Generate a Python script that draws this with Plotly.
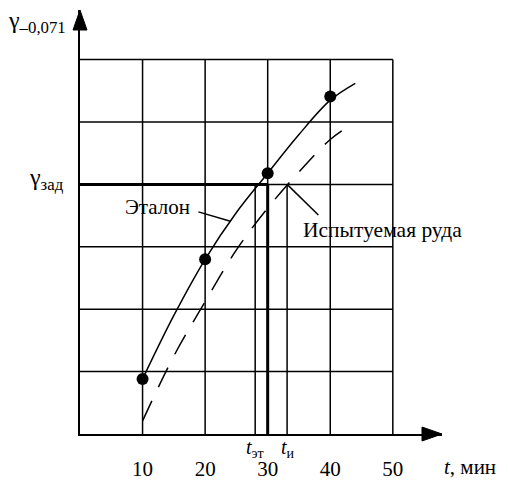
import plotly.graph_objects as go

# ---- data ----
etalon_t = [10, 15, 20, 25, 30, 35, 40, 44]
etalon_g = [0.88, 1.9, 2.8, 3.55, 4.18, 4.8, 5.35, 5.62]
points_t = [10, 20, 30, 40]
points_g = [0.88, 2.8, 4.18, 5.41]
test_t = [10, 15, 20, 25, 30, 35, 40, 43.4]
test_g = [0.21, 1.25, 2.12, 2.95, 3.62, 4.2, 4.72, 4.96]
tick_vals = [10, 20, 30, 40, 50]
tick_text = ["10", "20", "30", "40", "50"]
grid_y = [1, 2, 3, 4, 5, 6]
gamma_target = 4.0
t_et = 28.0
t_i = 33.1
t_mark = 30

X_MAX = 57.86
Y_MAX = 6.795
FONT = "Liberation Serif"


def f(size):
    return dict(size=size, family=FONT, color="black")


fig = go.Figure()

shapes = []
# grid
for xv in tick_vals:
    shapes.append(dict(type="line", xref="x", yref="y", x0=xv, x1=xv, y0=0, y1=grid_y[-1],
                       line=dict(color="black", width=1.5), layer="below"))
for yv in grid_y:
    shapes.append(dict(type="line", xref="x", yref="y", x0=0, x1=tick_vals[-1], y0=yv, y1=yv,
                       line=dict(color="black", width=1.5), layer="below"))
# thick target lines
shapes.append(dict(type="line", xref="x", yref="y", x0=0, x1=t_mark, y0=gamma_target, y1=gamma_target,
                   line=dict(color="black", width=3)))
shapes.append(dict(type="line", xref="x", yref="y", x0=t_mark, x1=t_mark, y0=0, y1=gamma_target,
                   line=dict(color="black", width=3)))
# t_et and t_i verticals
for tv in (t_et, t_i):
    shapes.append(dict(type="line", xref="x", yref="y", x0=tv, x1=tv, y0=0, y1=gamma_target,
                       line=dict(color="black", width=1.5)))
# leader lines
shapes.append(dict(type="line", xref="x", yref="y", x0=18.93, y0=3.56, x1=24.04, y1=3.41,
                   line=dict(color="black", width=1.5)))
shapes.append(dict(type="line", xref="x", yref="y", x0=38.1, y0=3.51, x1=t_i, y1=gamma_target,
                   line=dict(color="black", width=1.5)))
# arrowheads (paper refs so they are not clipped)
shapes.append(dict(type="path", xref="paper", yref="paper", xsizemode="pixel", ysizemode="pixel",
                   xanchor=0, yanchor=1, path="M 0,0 L -7,-20 L 7,-20 Z",
                   fillcolor="black", line=dict(color="black", width=1)))
shapes.append(dict(type="path", xref="paper", yref="paper", xsizemode="pixel", ysizemode="pixel",
                   xanchor=1, yanchor=0, path="M 0,0 L -20,7 L -20,-7 Z",
                   fillcolor="black", line=dict(color="black", width=1)))

fig.add_trace(go.Scatter(x=etalon_t, y=etalon_g, mode="lines",
                         line=dict(color="black", width=1.5, shape="spline", smoothing=1.0),
                         hoverinfo="skip"))
fig.add_trace(go.Scatter(x=test_t, y=test_g, mode="lines",
                         line=dict(color="black", width=1.5, shape="spline", smoothing=1.0,
                                   dash="22px,15px"),
                         hoverinfo="skip"))
fig.add_trace(go.Scatter(x=points_t, y=points_g, mode="markers",
                         marker=dict(color="black", size=12), cliponaxis=False))

ann = []
ann.append(dict(x=-0.032, y=0.972, xref="paper", yref="paper", xanchor="right", yanchor="middle",
                text="γ<sub>–0,071</sub>", showarrow=False, font=f(24)))
ann.append(dict(x=-0.040, y=0.602, xref="paper", yref="paper", xanchor="right", yanchor="middle",
                text="γ<sub>зад</sub>", showarrow=False, font=f(24)))
ann.append(dict(x=17.97, y=3.63, xref="x", yref="y", xanchor="right", yanchor="middle",
                text="Эталон", showarrow=False, font=f(21)))
ann.append(dict(x=35.4, y=3.27, xref="x", yref="y", xanchor="left", yanchor="middle",
                text="Испытуемая руда", showarrow=False, font=f(21.5)))
ann.append(dict(x=t_et, y=0, yshift=-14, xref="x", yref="y", xanchor="center", yanchor="middle",
                text="<i>t</i><sub>эт</sub>", showarrow=False, font=f(20)))
ann.append(dict(x=t_i + 0.2, y=0, yshift=-14, xref="x", yref="y", xanchor="center", yanchor="middle",
                text="<i>t</i><sub>и</sub>", showarrow=False, font=f(20)))
ann.append(dict(x=1, y=0, yshift=-33, xref="paper", yref="paper", xanchor="left", yanchor="middle",
                text="<i>t</i>, мин", showarrow=False, font=f(21)))

fig.update_layout(
    width=500, height=477,
    margin=dict(l=71.5, r=66.3, t=2, b=51, pad=0),
    plot_bgcolor="white", paper_bgcolor="white",
    showlegend=False,
    font=f(21),
    shapes=shapes, annotations=ann,
    xaxis=dict(range=[0, X_MAX], showgrid=False, zeroline=False, showline=True,
               linecolor="black", linewidth=2, tickvals=tick_vals, ticktext=tick_text,
               ticks="", ticklabelstandoff=15, tickfont=f(21),
               fixedrange=True),
    yaxis=dict(range=[0, Y_MAX], showgrid=False, zeroline=False, showline=True,
               linecolor="black", linewidth=2, showticklabels=False, ticks="",
               fixedrange=True),
)

fig.write_html("out.html")
